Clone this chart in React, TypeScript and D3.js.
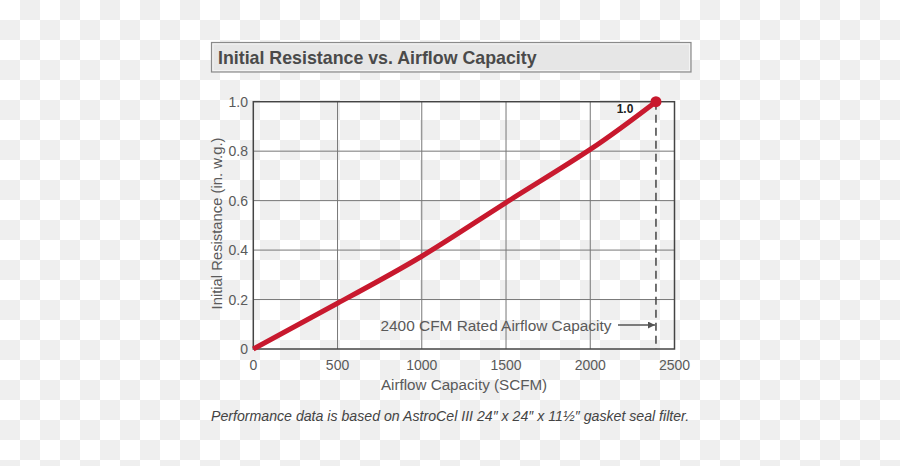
import React from "react";
import * as d3 from "d3";

const airflow = [0, 500, 1000, 1500, 2000, 2390];
const resistance = [0, 0.185, 0.375, 0.592, 0.807, 1.0];
const xTicks = [0, 500, 1000, 1500, 2000, 2500];
const yTicks = [0, 0.2, 0.4, 0.6, 0.8, 1.0];
const yTickLabels = ["0", "0.2", "0.4", "0.6", "0.8", "1.0"];
const ratedAirflow = 2390;
const title = "Initial Resistance vs. Airflow Capacity";
const xTitle = "Airflow Capacity (SCFM)";
const yTitle = "Initial Resistance (in. w.g.)";
const annotation = "2400 CFM Rated Airflow Capacity";
const endLabel = "1.0";
const footnote = "Performance data is based on AstroCel III 24\u2033 x 24\u2033 x 11\u00BD\u2033 gasket seal filter.";

const W = 900;
const H = 466;
const FONT = "'Liberation Sans', Arial, Helvetica, sans-serif";

export default function App() {
  const x = d3.scaleLinear().domain([0, 2500]).range([253.3, 674.5]);
  const y = d3.scaleLinear().domain([0, 1]).range([349, 101.7]);
  const pts: [number, number][] = airflow.map((a, i) => [a, resistance[i]]);
  const line = d3
    .line<[number, number]>()
    .x((d) => x(d[0]))
    .y((d) => y(d[1]))
    .curve(d3.curveNatural);

  const annY = 325;
  return (
    <svg
      width={W}
      height={H}
      style={{ position: "absolute", left: 0, top: 0, display: "block" }}
    >
      <defs>
        <pattern id="checker" width="40" height="40" patternUnits="userSpaceOnUse">
          <rect width="40" height="40" fill="#ffffff" />
          <rect x="20" y="0" width="20" height="20" fill="#efefef" />
          <rect x="0" y="20" width="20" height="20" fill="#efefef" />
        </pattern>
        <marker id="arrow" viewBox="0 0 10 10" refX="10" refY="5" markerWidth="7" markerHeight="7" orient="auto" markerUnits="userSpaceOnUse">
          <path d="M0,0 L10,5 L0,10 z" fill="#555" />
        </marker>
      </defs>
      <rect width={W} height={H} fill="url(#checker)" />

      {/* Title box */}
      <rect x={211.5} y={42.5} width={479.5} height={29.5} fill="#e6e6e6" stroke="#8a8a8a" strokeWidth={1.2} />
      <rect x={213} y={44} width={476.5} height={26.5} fill="none" stroke="#f4f4f4" strokeWidth={1} />
      <text x={218} y={63.5} fontFamily={FONT} fontWeight="bold" fontSize={17.8} fill="#4a4a4a">
        {title}
      </text>

      {/* grid */}
      {xTicks.slice(1, -1).map((t) => (
        <line key={"gx" + t} x1={x(t)} x2={x(t)} y1={y(1)} y2={y(0)} stroke="#777" strokeWidth={1} />
      ))}
      {yTicks.slice(1, -1).map((t) => (
        <line key={"gy" + t} x1={x(0)} x2={x(2500)} y1={y(t)} y2={y(t)} stroke="#777" strokeWidth={1} />
      ))}
      <rect x={x(0)} y={y(1)} width={x(2500) - x(0)} height={y(0) - y(1)} fill="none" stroke="#444" strokeWidth={1.5} />

      {/* tick labels */}
      {yTicks.map((t, i) => (
        <text key={"yl" + t} x={248} y={y(t) + 5} textAnchor="end" fontFamily={FONT} fontSize={14} fill="#5a5a5a">
          {yTickLabels[i]}
        </text>
      ))}
      {xTicks.map((t) => (
        <text key={"xl" + t} x={x(t)} y={370} textAnchor="middle" fontFamily={FONT} fontSize={14} fill="#5a5a5a">
          {t}
        </text>
      ))}
      <text x={464} y={390} textAnchor="middle" fontFamily={FONT} fontSize={15.2} fill="#5a5a5a">
        {xTitle}
      </text>
      <text
        transform={`translate(222,${223.5}) rotate(-90)`}
        textAnchor="middle"
        fontFamily={FONT}
        fontSize={14.8}
        fill="#5a5a5a"
      >
        {yTitle}
      </text>

      {/* rated dashed line */}
      <line x1={x(ratedAirflow)} x2={x(ratedAirflow)} y1={y(1)} y2={y(0)} stroke="#444" strokeWidth={1.5} strokeDasharray="8,5" />

      {/* annotation */}
      <text x={380.5} y={annY + 5.5} fontFamily={FONT} fontSize={15.4} fill="#5a5a5a">
        {annotation}
      </text>
      <line x1={618} x2={x(ratedAirflow) - 1} y1={annY} y2={annY} stroke="#555" strokeWidth={1.3} markerEnd="url(#arrow)" />

      {/* curve */}
      <path d={line(pts) || ""} fill="none" stroke="#c8192e" strokeWidth={5} strokeLinecap="butt" />
      <circle cx={x(ratedAirflow)} cy={y(1)} r={5.5} fill="#c8192e" />
      <text x={625} y={113} textAnchor="middle" fontFamily={FONT} fontWeight="bold" fontSize={12} fill="#222">
        {endLabel}
      </text>

      {/* footnote */}
      <text x={211} y={421} fontFamily={FONT} fontStyle="italic" fontSize={14.15} fill="#444">
        {footnote}
      </text>
    </svg>
  );
}
